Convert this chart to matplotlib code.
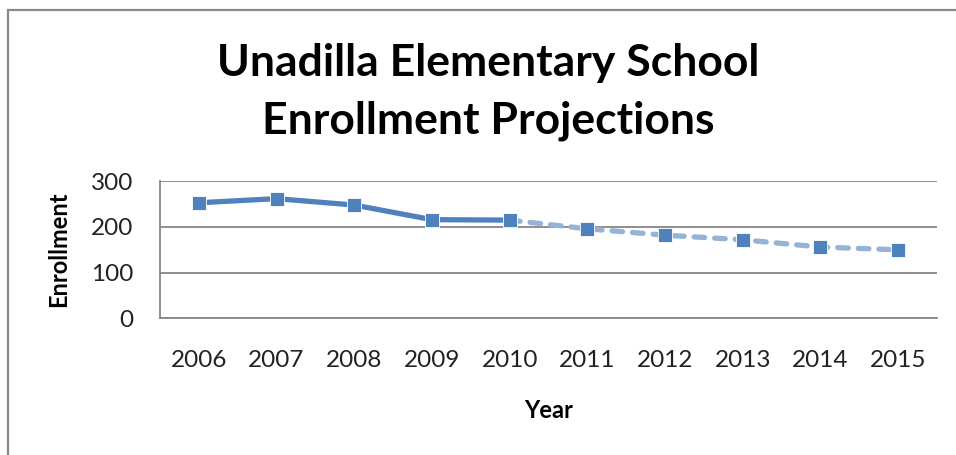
import matplotlib
matplotlib.use("Agg")
from matplotlib import pyplot as plt
from matplotlib.patches import Rectangle

c_line = "#4f81bd"
c_proj = "#95b3d7"
c_grid = "#868686"

years = ["2006", "2007", "2008", "2009", "2010", "2011", "2012", "2013", "2014", "2015"]
actual = [253, 262, 248, 216, 215]
projected = [215, 196, 182, 172, 156, 150]
yticks = [0, 100, 200, 300]

plt.rcParams["font.family"] = ["Lato", "DejaVu Sans"]

fig = plt.figure(figsize=(9.56, 4.55), dpi=100)
ax = fig.add_axes([160 / 956, 1 - 318.3 / 455, 777 / 956, 137 / 455])

xa = list(range(len(actual)))
xp = list(range(len(actual) - 1, len(years)))
# projection: light dashed line, actual: solid
ax.plot(xp, projected, color=c_proj, lw=3.8, ls=(0, (2.0, 1.9)),
        dash_capstyle="round", solid_capstyle="round", zorder=2)
ax.plot(xa, actual, color=c_line, lw=3.8, solid_joinstyle="round", zorder=3)
ax.plot(xa + xp[1:], actual + projected[1:], ls="none", marker="s",
        ms=10, color=c_line, mec="white", mew=0.6, zorder=4)

ax.set_xlim(-0.5, len(years) - 0.5)
ax.set_ylim(0, 300)
ax.set_yticks(yticks)
ax.set_xticks(range(len(years)))
ax.set_xticklabels(years)
ax.tick_params(axis="both", length=0, labelsize=17.5, colors="#222222")
ax.tick_params(axis="x", pad=23)
ax.tick_params(axis="y", pad=19)
ax.grid(axis="y", color=c_grid, lw=1.3)
ax.set_axisbelow(True)
for s in ["top", "right"]:
    ax.spines[s].set_visible(False)
ax.spines["left"].set_color(c_grid)
ax.spines["bottom"].set_color(c_grid)
ax.spines["left"].set_linewidth(1.3)
ax.spines["bottom"].set_linewidth(1.3)

fig.text(549 / 956, 1 - 411 / 455, "Year", ha="center", va="center",
         fontsize=17, fontweight="bold")
fig.text(59 / 956, 1 - 249 / 455, "Enrollment", ha="center", va="center",
         rotation=90, fontsize=17, fontweight="bold")
fig.text(488 / 956, 1 - 63 / 455, "Unadilla Elementary School", ha="center",
         va="center", fontsize=32, fontweight="bold")
fig.text(488 / 956, 1 - 121 / 455, "Enrollment Projections", ha="center",
         va="center", fontsize=32, fontweight="bold")

# chart frame, cut off at the right and bottom like the screenshot
fig.patches.append(Rectangle((8 / 956, -0.1), 1.2, 1 - 10 / 455 + 0.1,
                             transform=fig.transFigure, fill=False,
                             ec="#888888", lw=1.6))

fig.savefig("out.png", dpi=100)
